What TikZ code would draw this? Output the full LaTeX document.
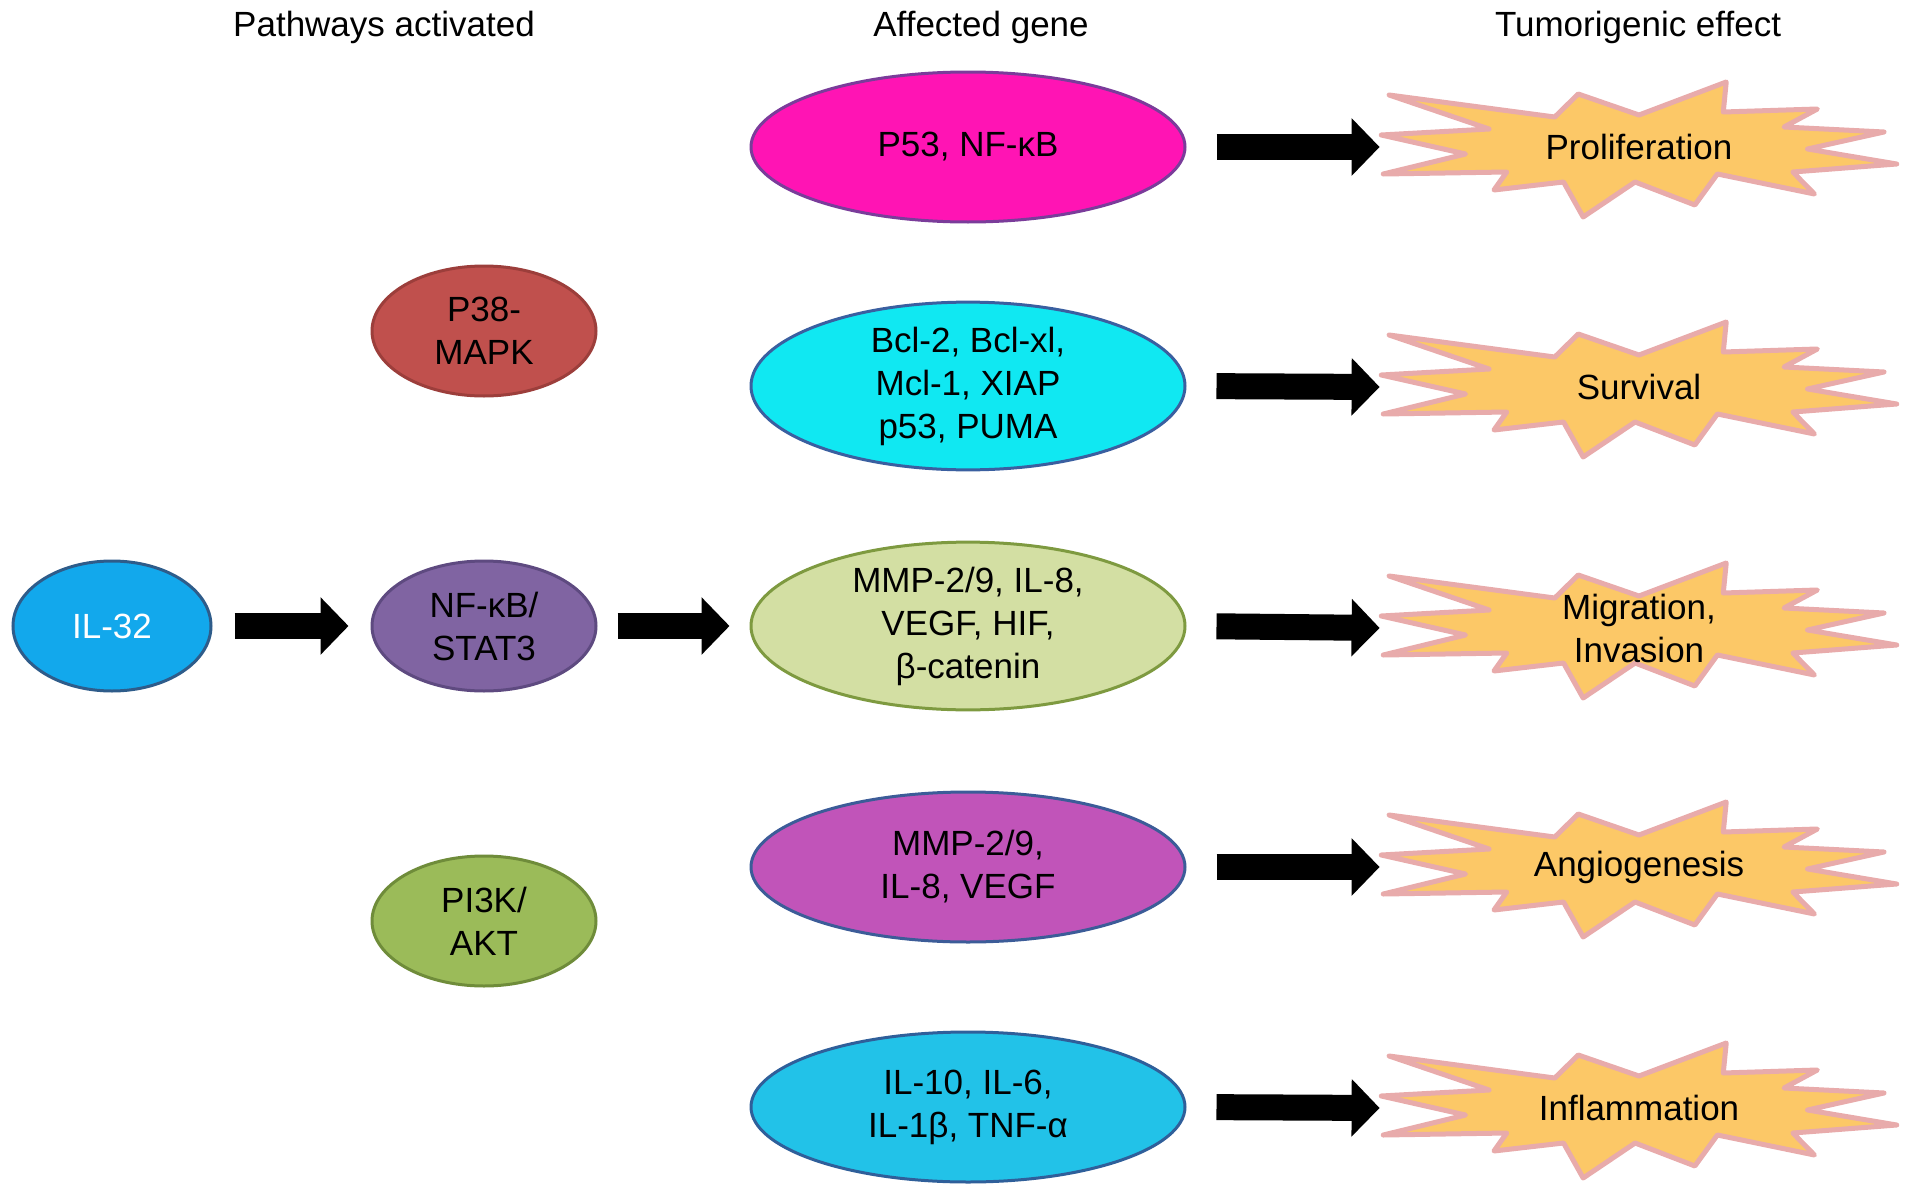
\documentclass[tikz,border=0pt]{standalone}
\usepackage{fontspec}
\setmainfont{Liberation Sans}
\usetikzlibrary{shapes.geometric,arrows.meta}

\definecolor{pfiftyfill}{HTML}{FF14B4}
\definecolor{pfiftyline}{HTML}{7A3C9A}
\definecolor{bclfill}{HTML}{10E8F2}
\definecolor{bclline}{HTML}{3A5FA0}
\definecolor{mmpfill}{HTML}{D3DFA3}
\definecolor{mmpline}{HTML}{7E9A40}
\definecolor{angiofill}{HTML}{C154B9}
\definecolor{angioline}{HTML}{3C5C98}
\definecolor{inflfill}{HTML}{22C2E8}
\definecolor{inflline}{HTML}{2F5F9A}
\definecolor{mapkfill}{HTML}{C0504D}
\definecolor{mapkline}{HTML}{9C3E3B}
\definecolor{statfill}{HTML}{8064A2}
\definecolor{statline}{HTML}{5E4A80}
\definecolor{aktfill}{HTML}{9BBB59}
\definecolor{aktline}{HTML}{6F8C3A}
\definecolor{ilfill}{HTML}{12A8EC}
\definecolor{illine}{HTML}{2E5C8A}
\definecolor{burstfill}{HTML}{FCC867}
\definecolor{burstline}{HTML}{E8ABAB}

\tikzset{
  txt/.style={font=\fontsize{17.5}{21.5}\selectfont, align=center, inner sep=0pt},
  gene/.style={txt, ellipse, line width=1.5pt, minimum width=217pt, minimum height=75pt},
  path/.style={txt, ellipse, line width=1.5pt, minimum width=112pt, minimum height=65pt},
  burstnode/.style={txt, minimum width=255pt, minimum height=60pt},
  burst/.style={fill=burstfill, draw=burstline, line width=2.5pt, line join=round},
  fatarrow/.style={line width=13pt, -{Triangle[length=14pt,width=28pt]}}
}

\begin{document}
\begin{tikzpicture}[x=0.5pt, y=-0.5pt]
	\useasboundingbox (0, 0) rectangle (1913, 1194);

	\node[txt] (headpath) at (384, 27) {Pathways activated};
	\node[txt] (headgene) at (981, 27) {Affected gene};
	\node[txt] (headeff) at (1638, 27) {Tumorigenic effect};

	\foreach \y in {147, 387, 628, 867, 1108}
		\draw[burst, shift={(1639, \y)}, xscale=0.98] (-255, -52) -- (-86, -30) -- (-62, -53) -- (0, -32)
			-- (89, -65) -- (86, -35) -- (182, -38) -- (148, -20) -- (250, -15) -- (172, 2)
			-- (263, 17) -- (157, 25) -- (179, 47) -- (80, 27) -- (57, 58) -- (-4, 35)
			-- (-57, 70) -- (-77, 35) -- (-148, 43) -- (-135, 25) -- (-261, 27) -- (-177, 7)
			-- (-263, -12) -- (-153, -18) -- cycle;

	\node[gene, fill=pfiftyfill, draw=pfiftyline] (pfifty) at (968, 147) {P53, NF-κB};
	\node[gene, fill=bclfill, draw=bclline] (bcl) at (968, 386) {Bcl-2, Bcl-xl,\\Mcl-1, XIAP\\p53, PUMA};
	\node[gene, fill=mmpfill, draw=mmpline] (mmp) at (968, 626) {MMP-2/9, IL-8,\\VEGF, HIF,\\β-catenin};
	\node[gene, fill=angiofill, draw=angioline] (vegf) at (968, 867) {MMP-2/9,\\IL-8, VEGF};
	\node[gene, fill=inflfill, draw=inflline] (cyto) at (968, 1107) {IL-10, IL-6,\\IL-1β, TNF-α};

	\node[path, fill=mapkfill, draw=mapkline] (mapk) at (484, 331) {P38-\\MAPK};
	\node[path, fill=statfill, draw=statline] (stat) at (484, 626) {NF-κB/\\STAT3};
	\node[path, fill=aktfill, draw=aktline] (akt) at (484, 921) {PI3K/\\AKT};
	\node[path, fill=ilfill, draw=illine, text=white, minimum width=99pt] (ilth) at (112, 626) {IL-32};

	\node[burstnode] (prolif) at (1639, 147) {Proliferation};
	\node[burstnode] (surv) at (1639, 387) {Survival};
	\node[burstnode] (migr) at (1639, 628) {Migration,\\Invasion};
	\node[burstnode] (angio) at (1639, 867) {Angiogenesis};
	\node[burstnode] (infl) at (1639, 1108) {Inflammation};

	\draw[fatarrow, shorten <=11pt, shorten >=11pt] (ilth.east) -- (stat.west);
	\draw[fatarrow, shorten <=10pt, shorten >=10pt] (stat.east) -- (mmp.west);
	\draw[fatarrow, shorten <=15pt, shorten >=2pt] (pfifty.east) -- (prolif.west);
	\draw[fatarrow, shorten <=15pt, shorten >=2pt] (bcl.east) -- (surv.west);
	\draw[fatarrow, shorten <=15pt, shorten >=2pt] (mmp.east) -- (migr.west);
	\draw[fatarrow, shorten <=15pt, shorten >=2pt] (vegf.east) -- (angio.west);
	\draw[fatarrow, shorten <=15pt, shorten >=2pt] (cyto.east) -- (infl.west);
\end{tikzpicture}
\end{document}
